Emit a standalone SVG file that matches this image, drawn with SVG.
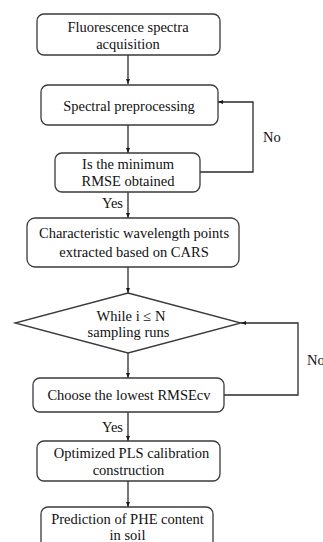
<svg xmlns="http://www.w3.org/2000/svg" width="323" height="542" viewBox="0 0 323 542">
<style>
.box{fill:#fff;stroke:#3a3a3a;stroke-width:1.3}
.t{font-family:"Liberation Serif","Times New Roman",serif;font-size:14.5px;fill:#111;text-anchor:middle}
.l{font-family:"Liberation Serif","Times New Roman",serif;font-size:14.5px;fill:#111}
.c{fill:none;stroke:#2a2a2a;stroke-width:1.3}
</style>
<defs>
<marker id="ah" viewBox="0 0 10 10" refX="10" refY="5" markerWidth="5" markerHeight="5" orient="auto" markerUnits="userSpaceOnUse">
<path d="M0,1 L10,5 L0,9 Z" fill="#1a1a1a"/>
</marker>
</defs>
<rect width="323" height="542" fill="#fff"/>
<g id="connectors">
<line class="c" x1="128" y1="55" x2="128" y2="84" marker-end="url(#ah)"/>
<line class="c" x1="128" y1="125" x2="128" y2="153" marker-end="url(#ah)"/>
<polyline class="c" points="200,172 253,172 253,102 218,102" marker-end="url(#ah)"/>
<line class="c" x1="128" y1="192" x2="128" y2="218" marker-end="url(#ah)"/>
<line class="c" x1="128" y1="267" x2="128" y2="293" marker-end="url(#ah)"/>
<polyline class="c" points="224,395 298,395 298,323 241,323" marker-end="url(#ah)"/>
<line class="c" x1="128" y1="353" x2="128" y2="378" marker-end="url(#ah)"/>
<line class="c" x1="128" y1="412" x2="128" y2="441" marker-end="url(#ah)"/>
<line class="c" x1="128" y1="481" x2="128" y2="507" marker-end="url(#ah)"/>
<text class="l" x="263" y="142">No</text>
<text class="l" x="123" y="208" text-anchor="end">Yes</text>
<text class="l" x="307" y="365">No</text>
<text class="l" x="123" y="432" text-anchor="end">Yes</text>
</g>
<g id="n1">
<rect class="box" x="37" y="14" width="183" height="41" rx="7"/>
<text class="t" x="128" y="32">Fluorescence spectra</text>
<text class="t" x="128" y="49">acquisition</text>
</g>
<g id="n2">
<rect class="box" x="41" y="85" width="177" height="40" rx="7"/>
<text class="t" x="129" y="111">Spectral preprocessing</text>
</g>
<g id="n3">
<rect class="box" x="55" y="153" width="145" height="39" rx="7"/>
<text class="t" x="128" y="169">Is the minimum</text>
<text class="t" x="128" y="186">RMSE obtained</text>
</g>
<g id="n4">
<rect class="box" x="27" y="218" width="212" height="49" rx="8"/>
<text class="t" x="134" y="238">Characteristic wavelength points</text>
<text class="t" x="134" y="257">extracted based on CARS</text>
</g>
<g id="n5">
<polygon class="box" points="128,293 241,323 128,353 15,323"/>
<text class="t" x="131" y="321">While i ≤ N</text>
<text class="t" x="128.5" y="337">sampling runs</text>
</g>
<g id="n6">
<rect class="box" x="33" y="378" width="191" height="34" rx="7"/>
<text class="t" x="129" y="400">Choose the lowest RMSEcv</text>
</g>
<g id="n7">
<rect class="box" x="37" y="441" width="183" height="40" rx="7"/>
<text class="t" x="131.5" y="458">Optimized PLS calibration</text>
<text class="t" x="128.5" y="475">construction</text>
</g>
<g id="n8">
<rect class="box" x="41" y="507" width="172" height="45" rx="7"/>
<text class="t" x="127.5" y="524">Prediction of PHE content</text>
<text class="t" x="127.5" y="540">in soil</text>
</g>
</svg>
